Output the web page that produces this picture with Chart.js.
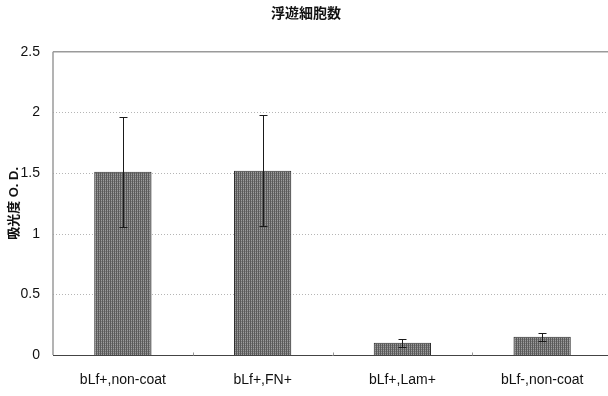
<!DOCTYPE html>
<html>
<head>
<meta charset="utf-8">
<script src="https://cdn.jsdelivr.net/npm/chart.js@4/dist/chart.umd.min.js"></script>
<style>
  html, body { margin: 0; padding: 0; background: #fff; overflow: hidden; }
  #wrap { width: 608px; height: 396px; overflow: hidden; }
</style>
</head>
<body>
<div id="wrap"><canvas id="c" width="612" height="396"></canvas></div>
<script>
// Floating cell count: absorbance (O.D.) per coating condition
const categories = ['bLf+,non-coat', 'bLf+,FN+', 'bLf+,Lam+', 'bLf-,non-coat'];
const absorbance = [1.51, 1.52, 0.10, 0.15];
const errorSD = [0.455, 0.46, 0.03, 0.035];
const yTicks = [0, 0.5, 1, 1.5, 2, 2.5];

const FONT = '"Liberation Sans", Arial, "Noto Sans CJK JP", sans-serif';

// striped grey fill for the bars
function stripePattern() {
  const p = document.createElement('canvas');
  p.width = 2; p.height = 2;
  const g = p.getContext('2d');
  g.fillStyle = '#9c9c9c'; g.fillRect(0, 0, 2, 2);
  g.fillStyle = '#5a5a5a'; g.fillRect(0, 0, 1, 2);
  g.fillStyle = '#7a7a7a'; g.fillRect(1, 1, 1, 1);
  return document.getElementById('c').getContext('2d').createPattern(p, 'repeat');
}

// dotted grid, frame and small category ticks
const framePlugin = {
  id: 'frame',
  beforeDatasetsDraw(chart) {
    const { ctx, chartArea: a, scales: { x, y } } = chart;
    ctx.save();
    ctx.strokeStyle = '#b5b5b5';
    ctx.lineWidth = 1;
    ctx.setLineDash([1, 2]);
    yTicks.forEach(v => {
      if (v <= 0 || v >= 2.5) return;
      const py = Math.round(y.getPixelForValue(v)) + 0.5;
      ctx.beginPath(); ctx.moveTo(a.left, py); ctx.lineTo(a.right, py); ctx.stroke();
    });
    ctx.setLineDash([]);
    // top frame
    ctx.strokeStyle = '#9a9a9a';
    ctx.lineWidth = 1.5;
    const top = y.getPixelForValue(2.5);
    ctx.beginPath(); ctx.moveTo(a.left, top); ctx.lineTo(a.right, top); ctx.stroke();
    // left axis
    ctx.beginPath(); ctx.moveTo(a.left, top); ctx.lineTo(a.left, a.bottom); ctx.stroke();
    // bottom axis
    ctx.strokeStyle = '#444';
    ctx.lineWidth = 1;
    const bot = Math.round(y.getPixelForValue(0)) + 0.5;
    ctx.beginPath(); ctx.moveTo(a.left, bot); ctx.lineTo(a.right, bot); ctx.stroke();
    // tiny ticks between categories
    ctx.strokeStyle = '#999';
    for (let i = 1; i < categories.length; i++) {
      const px = Math.round((x.getPixelForValue(i - 1) + x.getPixelForValue(i)) / 2) + 0.5;
      ctx.beginPath(); ctx.moveTo(px, bot - 3); ctx.lineTo(px, bot); ctx.stroke();
    }
    ctx.restore();
  }
};

// error bars
const errorPlugin = {
  id: 'errbars',
  afterDatasetsDraw(chart) {
    const { ctx, scales: { x, y } } = chart;
    ctx.save();
    ctx.strokeStyle = '#1a1a1a';
    ctx.lineWidth = 1;
    absorbance.forEach((v, i) => {
      const px = Math.round(x.getPixelForValue(i)) + 0.5;
      const hi = Math.round(y.getPixelForValue(v + errorSD[i])) + 0.5;
      const lo = Math.round(y.getPixelForValue(v - errorSD[i])) + 0.5;
      ctx.beginPath();
      ctx.moveTo(px, hi); ctx.lineTo(px, lo);
      ctx.moveTo(px - 4, hi); ctx.lineTo(px + 4, hi);
      ctx.moveTo(px - 4, lo); ctx.lineTo(px + 4, lo);
      ctx.stroke();
    });
    ctx.restore();
  }
};

new Chart(document.getElementById('c'), {
  type: 'bar',
  data: {
    labels: categories,
    datasets: [{
      data: absorbance,
      backgroundColor: stripePattern(),
      borderColor: '#2e2e2e',
      borderWidth: 1,
      borderSkipped: 'bottom',
      categoryPercentage: 1,
      barPercentage: 0.41
    }]
  },
  options: {
    responsive: false,
    animation: false,
    events: [],
    layout: { padding: { left: 0, right: 0, top: 0, bottom: 0 } },
    plugins: {
      legend: { display: false },
      tooltip: { enabled: false },
      title: {
        display: true,
        text: '浮遊細胞数',
        color: '#111',
        font: { family: FONT, size: 14, weight: 'bold' },
        padding: { top: 6, bottom: 29 }
      }
    },
    scales: {
      x: {
        grid: { display: false, drawTicks: false },
        border: { display: false },
        ticks: { color: '#111', font: { family: FONT, size: 14 }, padding: 17, maxRotation: 0 },
        afterFit(s) { s.height = 41; }
      },
      y: {
        min: 0, max: 2.5,
        afterBuildTicks(s) { s.ticks = yTicks.map(v => ({ value: v })); },
        grid: { display: false, drawTicks: false },
        border: { display: false },
        ticks: {
          color: '#111',
          font: { family: FONT, size: 14 },
          padding: 13,
          callback: v => String(v)
        },
        title: {
          display: true,
          text: '吸光度 O. D.',
          color: '#111',
          font: { family: FONT, size: 13, weight: 'bold' },
          padding: { top: 7, bottom: 0 }
        },
        afterFit(s) { s.width = 53; }
      }
    }
  },
  plugins: [framePlugin, errorPlugin]
});
</script>
</body>
</html>
